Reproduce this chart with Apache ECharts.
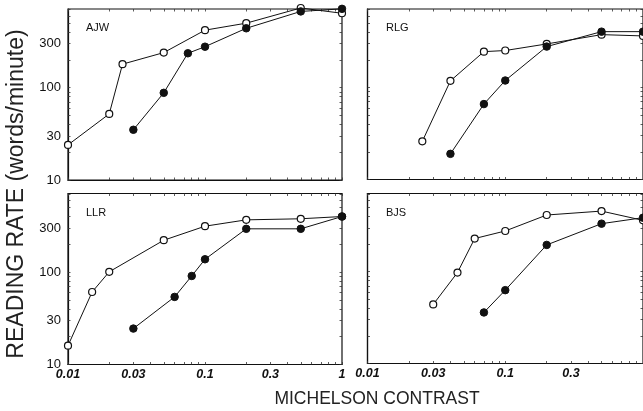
<!DOCTYPE html>
<html>
<head>
<meta charset="utf-8">
<script src="https://cdn.jsdelivr.net/npm/echarts@6/dist/echarts.min.js"></script>
<style>
html,body{margin:0;padding:0;background:#fff;}
#c{width:643px;height:411px;}
</style>
</head>
<body>
<div id="c"></div>
<script>
// ---- data ----
const panelNames = ['AJW', 'RLG', 'LLR', 'BJS'];

const ajwOpenX = [0.01, 0.02, 0.025, 0.05, 0.1, 0.2, 0.5, 1];
const ajwOpenY = [24, 52, 180, 240, 420, 500, 730, 640];
const ajwFilledX = [0.03, 0.05, 0.075, 0.1, 0.2, 0.5, 1];
const ajwFilledY = [35, 88, 236, 278, 440, 670, 715];

const rlgOpenX = [0.025, 0.04, 0.07, 0.1, 0.2, 0.5, 1];
const rlgOpenY = [26, 118, 245, 252, 297, 375, 363];
const rlgFilledX = [0.04, 0.07, 0.1, 0.2, 0.5, 1];
const rlgFilledY = [19, 66, 119, 278, 404, 404];

const llrOpenX = [0.01, 0.015, 0.02, 0.05, 0.1, 0.2, 0.5, 1];
const llrOpenY = [16, 61, 101, 222, 315, 369, 379, 401];
const llrFilledX = [0.03, 0.06, 0.08, 0.1, 0.2, 0.5, 1];
const llrFilledY = [24.5, 54, 91, 138, 295, 295, 401];

const bjsOpenX = [0.03, 0.045, 0.06, 0.1, 0.2, 0.5, 1];
const bjsOpenY = [44, 98, 230, 278, 415, 458, 363];
const bjsFilledX = [0.07, 0.1, 0.2, 0.5, 1];
const bjsFilledY = [36, 63, 196, 334, 388];

const xTickLabels = [0.01, 0.03, 0.1, 0.3, 1];
const xTickLabelsRight = [0.01, 0.03, 0.1, 0.3];
const yTickLabels = [10, 30, 100, 300];
const xMinorTicks = [0.01,0.02,0.03,0.04,0.05,0.06,0.07,0.08,0.09,0.1,0.2,0.3,0.4,0.5,0.6,0.7,0.8,0.9,1];
const yMinorTicks = [10,20,30,40,50,60,70,80,90,100,200,300,400,500,600,700];

const xTitle = 'MICHELSON CONTRAST';
const yTitle = 'READING RATE (words/minute)';

// ---- chart ----
const zip = (xs, ys) => xs.map((x, i) => [x, ys[i]]);
const panels = [
  {open: zip(ajwOpenX, ajwOpenY), filled: zip(ajwFilledX, ajwFilledY)},
  {open: zip(rlgOpenX, rlgOpenY), filled: zip(rlgFilledX, rlgFilledY)},
  {open: zip(llrOpenX, llrOpenY), filled: zip(llrFilledX, llrFilledY)},
  {open: zip(bjsOpenX, bjsOpenY), filled: zip(bjsFilledX, bjsFilledY)}
];

const grids = [
  {left: 68, top: 9, width: 274, height: 171},
  {left: 367.5, top: 9, width: 276.4, height: 170.5},
  {left: 68, top: 193.5, width: 274, height: 171},
  {left: 367.5, top: 193.5, width: 276.4, height: 170}
].map(g => Object.assign({show: true, borderColor: '#111', borderWidth: 1.2, backgroundColor: 'transparent'}, g));

const lineCol = '#111';
const xAxes = [], yAxes = [], series = [];
const fontFam = '"Liberation Sans", Arial, sans-serif';

panels.forEach((p, i) => {
  const bottomRow = i >= 2;
  const leftCol = i % 2 === 0;
  const xLabels = bottomRow ? (leftCol ? xTickLabels : xTickLabelsRight) : [];
  xAxes.push({
    type: 'log', gridIndex: i, min: 0.01, max: 1, position: 'bottom',
    axisLine: {show: true, onZero: false, lineStyle: {color: lineCol, width: 1.2}},
    axisTick: {show: true, inside: true, length: 2.5, customValues: xMinorTicks, lineStyle: {color: '#333', width: 0.8}},
    axisLabel: {show: bottomRow, customValues: xLabels, margin: 4, color: '#111',
      fontFamily: fontFam, fontSize: 12.5, fontStyle: 'italic', fontWeight: 'bold',
      formatter: v => String(+(+v).toPrecision(3))},
    splitLine: {show: false}, minorTick: {show: false}
  });
  xAxes.push({
    type: 'log', gridIndex: i, min: 0.01, max: 1, position: 'top',
    axisLine: {show: false},
    axisTick: {show: true, inside: true, length: 2.5, customValues: xMinorTicks, lineStyle: {color: '#333', width: 0.8}},
    axisLabel: {show: false}, splitLine: {show: false}
  });
  yAxes.push({
    type: 'log', gridIndex: i, min: 10, max: 712, position: 'left',
    axisLine: {show: true, onZero: false, lineStyle: {color: lineCol, width: 1.2}},
    axisTick: {show: true, inside: true, length: 2.5, customValues: yMinorTicks, lineStyle: {color: '#333', width: 0.8}},
    axisLabel: {show: leftCol, customValues: yTickLabels, margin: 7, color: '#111',
      fontFamily: fontFam, fontSize: 13,
      formatter: v => String(Math.round(v))},
    splitLine: {show: false}
  });
  yAxes.push({
    type: 'log', gridIndex: i, min: 10, max: 712, position: 'right',
    axisLine: {show: false},
    axisTick: {show: true, inside: true, length: 2.5, customValues: yMinorTicks, lineStyle: {color: '#333', width: 0.8}},
    axisLabel: {show: false}, splitLine: {show: false}
  });
  const xi = i * 2, yi = i * 2;
  series.push({
    type: 'line', xAxisIndex: xi, yAxisIndex: yi, data: p.open, clip: false,
    symbol: 'circle', symbolSize: 7, z: 2,
    lineStyle: {color: lineCol, width: 1},
    itemStyle: {color: '#fff', borderColor: lineCol, borderWidth: 1.2},
    emphasis: {disabled: true}, animation: false
  });
  series.push({
    type: 'line', xAxisIndex: xi, yAxisIndex: yi, data: p.filled, clip: false,
    symbol: 'circle', symbolSize: 7.5, z: 3,
    lineStyle: {color: lineCol, width: 1},
    itemStyle: {color: lineCol, borderColor: lineCol, borderWidth: 1},
    emphasis: {disabled: true}, animation: false
  });
});

const nameTitles = panelNames.map((n, i) => ({
  text: n,
  left: (i % 2 === 0) ? 86 : 386,
  top: (i < 2) ? 22 : 207,
  padding: 0,
  textStyle: {fontFamily: fontFam, fontSize: 11, fontWeight: 'normal', color: '#111'}
}));

const chart = echarts.init(document.getElementById('c'), null, {renderer: 'canvas'});
chart.setOption({
  animation: false,
  backgroundColor: '#fff',
  title: nameTitles,
  grid: grids,
  xAxis: xAxes,
  yAxis: yAxes,
  series: series,
  graphic: [
    {type: 'text', x: 377, y: 399,
      style: {text: xTitle, fontFamily: fontFam, fontSize: 17.5, fill: '#222', align: 'center', verticalAlign: 'middle'}},
    {type: 'text', x: 17, y: 194, rotation: Math.PI / 2,
      style: {text: yTitle, fontFamily: fontFam, fontSize: 23, fill: '#222', align: 'center', verticalAlign: 'middle'}}
  ]
});
</script>
</body>
</html>
